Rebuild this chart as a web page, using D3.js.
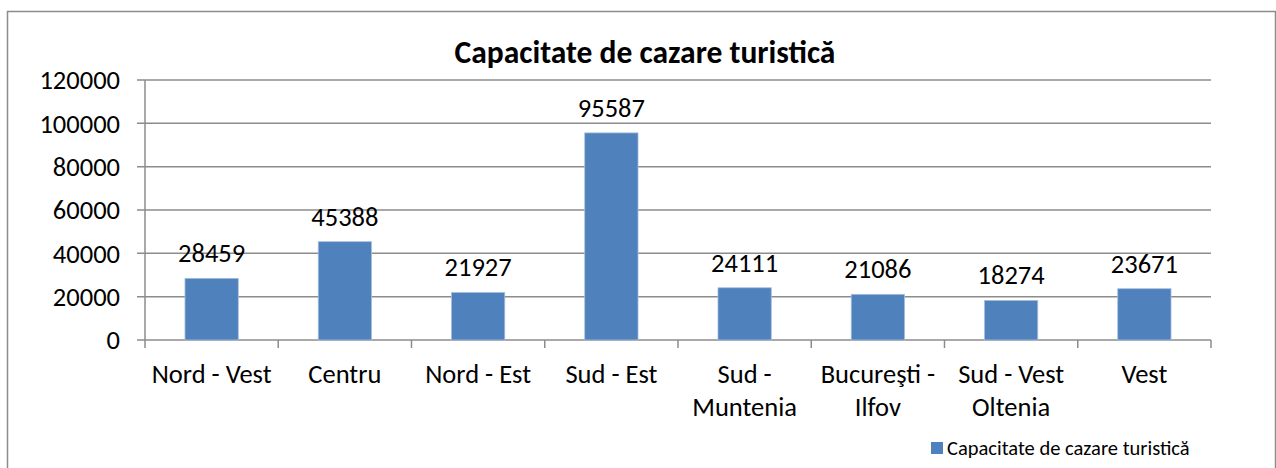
<!DOCTYPE html>
<html>
<head>
<meta charset="utf-8">
<script src="https://cdn.jsdelivr.net/npm/d3@7"></script>
<style>
  body { margin: 0; background: #fff; }
  text { font-family: Carlito, Calibri, "Open Sans", sans-serif; fill: #000; }
</style>
</head>
<body>
<div id="chart"></div>
<script>
// Data
const categories = [
  ["Nord - Vest"],
  ["Centru"],
  ["Nord - Est"],
  ["Sud - Est"],
  ["Sud -", "Muntenia"],
  ["Bucureşti -", "Ilfov"],
  ["Sud - Vest", "Oltenia"],
  ["Vest"],
];
const values = [28459, 45388, 21927, 95587, 24111, 21086, 18274, 23671];
const yTicks = [0, 20000, 40000, 60000, 80000, 100000, 120000];
const seriesName = "Capacitate de cazare turistică";

const W = 1276, H = 468;
const margin = { top: 80, right: 65, bottom: 128, left: 145 };
const width = W - margin.left - margin.right;
const height = H - margin.top - margin.bottom;

const svg = d3.select("#chart")
  .append("svg")
  .attr("width", W)
  .attr("height", H);

// outer frame
svg.append("rect")
  .attr("x", 7.5).attr("y", 11.5)
  .attr("width", 1268).attr("height", 470)
  .attr("fill", "none")
  .attr("stroke", "#8c8c8c")
  .attr("stroke-width", 1.5);

// title
svg.append("text")
  .attr("x", 645).attr("y", 63)
  .attr("text-anchor", "middle")
  .style("font-size", "31.5px")
  .style("font-weight", "bold")
  .text(seriesName);

const g = svg.append("g")
  .attr("transform", `translate(${margin.left},${margin.top})`);

const x = d3.scaleBand()
  .domain(d3.range(categories.length))
  .range([0, width])
  .paddingInner(0.6)
  .paddingOuter(0.3);

const y = d3.scaleLinear().domain([0, 120000]).range([height, 0]);

// gridlines
g.append("g")
  .selectAll("line")
  .data(yTicks)
  .join("line")
  .attr("x1", -8).attr("x2", width)
  .attr("y1", d => y(d)).attr("y2", d => y(d))
  .attr("stroke", "#8c8c8c")
  .attr("stroke-width", 1.5);

// y axis line
g.append("line")
  .attr("x1", 0).attr("x2", 0)
  .attr("y1", 0).attr("y2", height)
  .attr("stroke", "#8c8c8c")
  .attr("stroke-width", 1.5);

// y labels
g.append("g")
  .selectAll("text")
  .data(yTicks)
  .join("text")
  .attr("x", -25)
  .attr("y", d => y(d))
  .attr("dy", "0.35em")
  .attr("text-anchor", "end")
  .style("font-size", "26.5px")
  .text(d => d);

// x tick marks at category boundaries
g.append("g")
  .selectAll("line")
  .data(d3.range(categories.length + 1))
  .join("line")
  .attr("x1", i => i * width / categories.length)
  .attr("x2", i => i * width / categories.length)
  .attr("y1", height).attr("y2", height + 8)
  .attr("stroke", "#8c8c8c")
  .attr("stroke-width", 1.5);

// bars
g.append("g")
  .selectAll("rect")
  .data(values)
  .join("rect")
  .attr("x", (d, i) => x(i))
  .attr("y", d => y(d))
  .attr("width", x.bandwidth())
  .attr("height", d => height - y(d))
  .attr("fill", "#4f81bd")
  .attr("stroke", "#a7bfde")
  .attr("stroke-width", 0.8);

// value labels
g.append("g")
  .selectAll("text")
  .data(values)
  .join("text")
  .attr("x", (d, i) => x(i) + x.bandwidth() / 2)
  .attr("y", d => y(d) - 16)
  .attr("text-anchor", "middle")
  .style("font-size", "26.5px")
  .text(d => d);

// category labels
const cat = g.append("g")
  .selectAll("text")
  .data(categories)
  .join("text")
  .attr("x", (d, i) => x(i) + x.bandwidth() / 2)
  .attr("y", height + 43)
  .attr("text-anchor", "middle")
  .style("font-size", "26.5px");
cat.selectAll("tspan")
  .data(d => d)
  .join("tspan")
  .attr("x", function () { return d3.select(this.parentNode).attr("x"); })
  .attr("dy", (d, i) => i === 0 ? 0 : 33)
  .text(d => d);

// legend
svg.append("rect")
  .attr("x", 931).attr("y", 442)
  .attr("width", 12).attr("height", 12)
  .attr("fill", "#4f81bd");
svg.append("text")
  .attr("x", 947).attr("y", 455)
  .style("font-size", "20.5px")
  .text(seriesName);
</script>
</body>
</html>
